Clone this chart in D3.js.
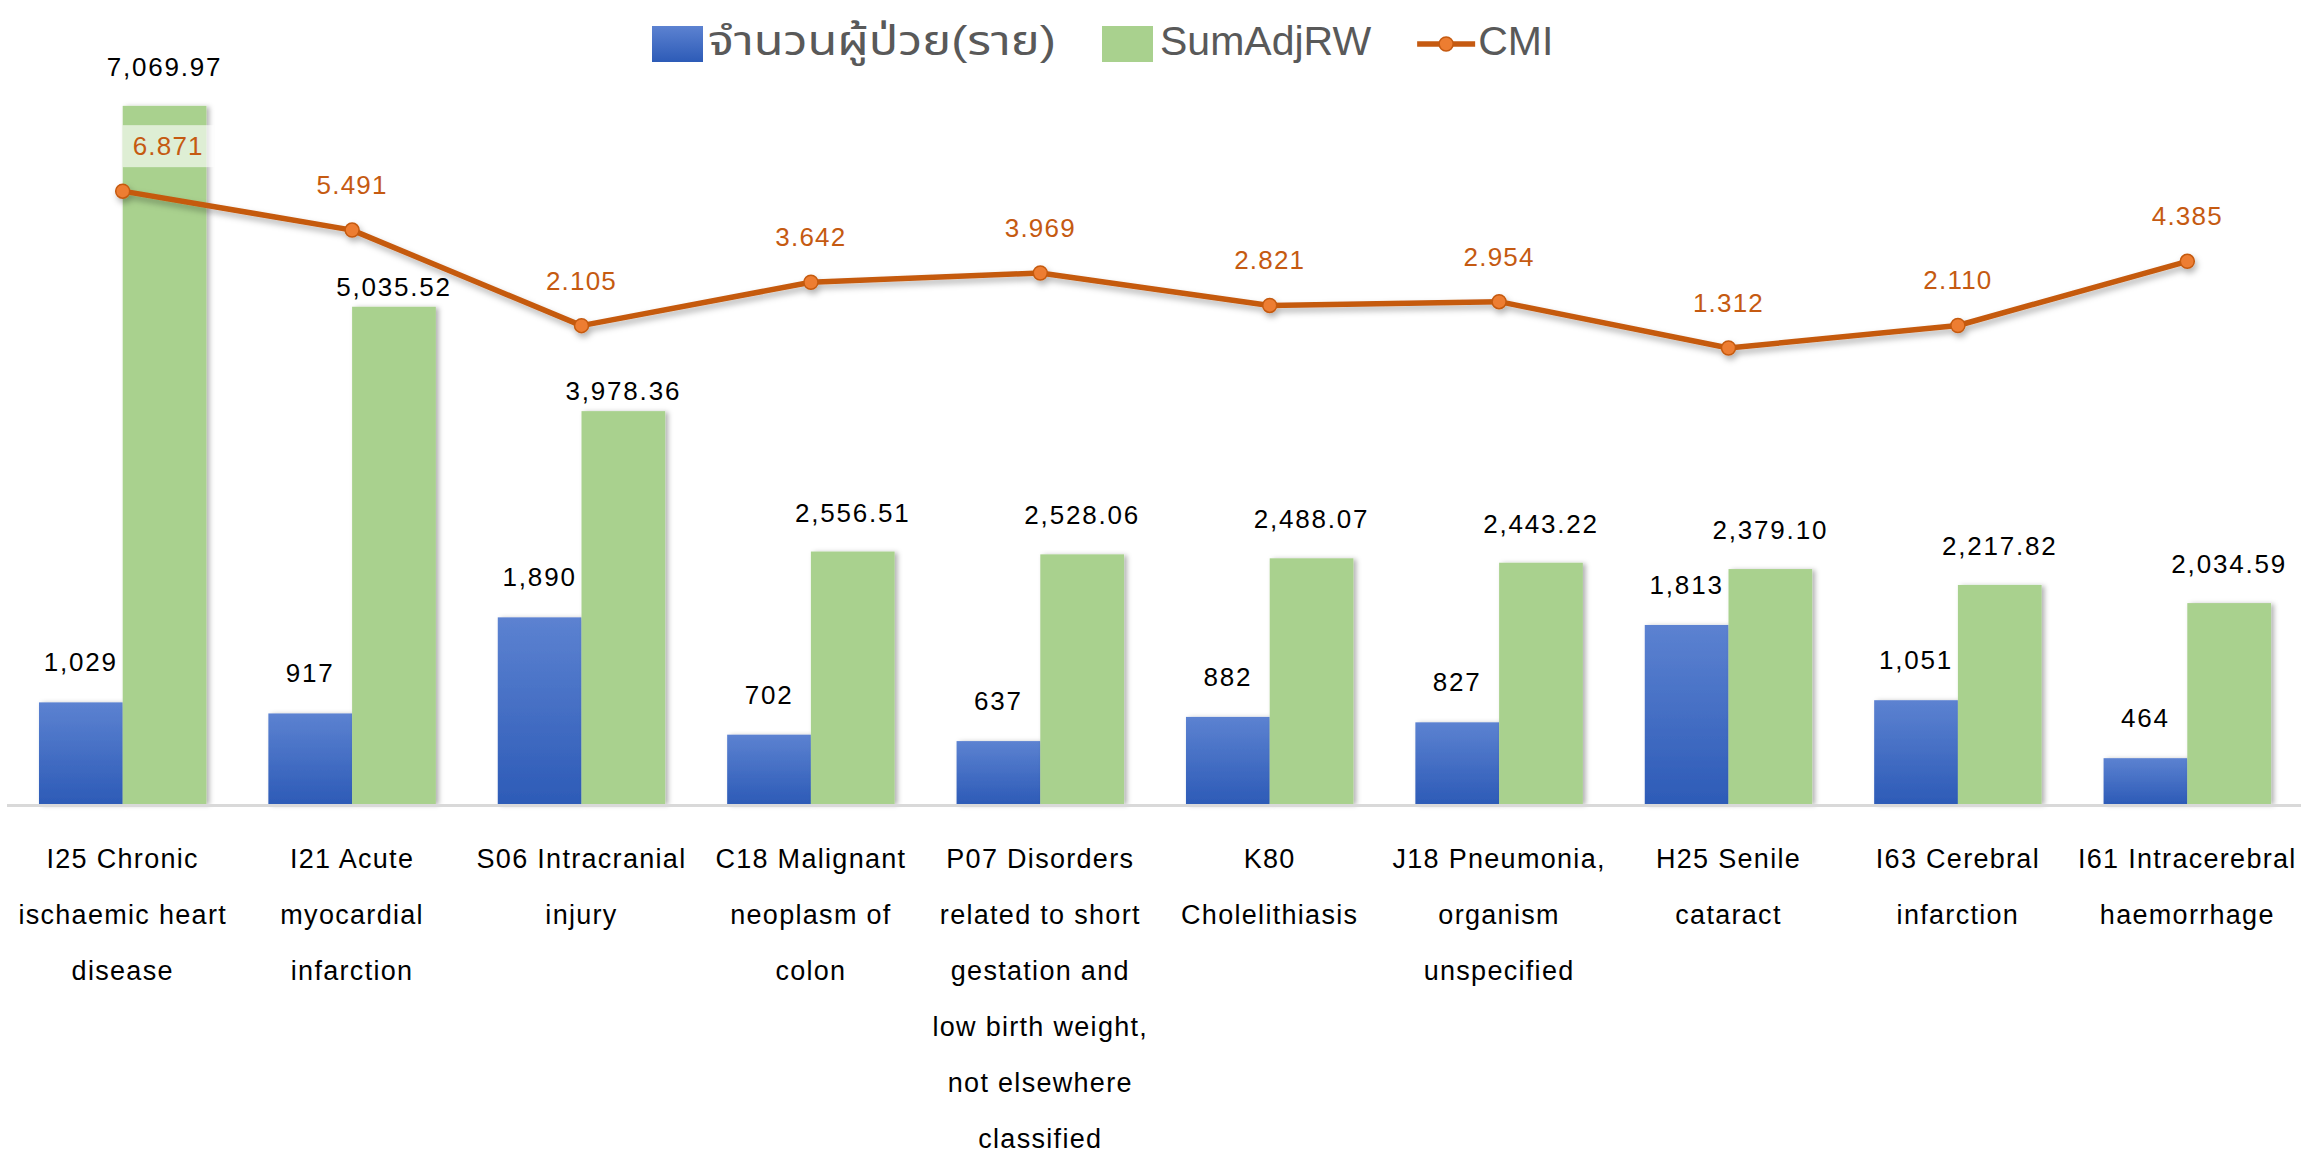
<!DOCTYPE html>
<html lang="th">
<head>
<meta charset="UTF-8">
<title>CMI chart</title>
<script src="https://cdn.jsdelivr.net/npm/d3@7"></script>
<style>
  body { margin: 0; background: #fff; }
  svg { display: block; }
  text { font-family: "Liberation Sans", Arial, "Noto Sans Thai", "Noto Sans", sans-serif; }
</style>
</head>
<body>
<svg id="chart" width="2301" height="1155"></svg>
<script>
// category labels, already broken into lines as in the original
var categories = [
  ["I25 Chronic", "ischaemic heart", "disease"],
  ["I21 Acute", "myocardial", "infarction"],
  ["S06 Intracranial", "injury"],
  ["C18 Malignant", "neoplasm of", "colon"],
  ["P07 Disorders", "related to short", "gestation and", "low birth weight,", "not elsewhere", "classified"],
  ["K80", "Cholelithiasis"],
  ["J18 Pneumonia,", "organism", "unspecified"],
  ["H25 Senile", "cataract"],
  ["I63 Cerebral", "infarction"],
  ["I61 Intracerebral", "haemorrhage"]
];
var patients = [1029, 917, 1890, 702, 637, 882, 827, 1813, 1051, 464];
var sumAdjRW = [7069.97, 5035.52, 3978.36, 2556.51, 2528.06, 2488.07, 2443.22, 2379.10, 2217.82, 2034.59];
var cmi = [6.871, 5.491, 2.105, 3.642, 3.969, 2.821, 2.954, 1.312, 2.110, 4.385];
var seriesNames = ["จำนวนผู้ป่วย(ราย)", "SumAdjRW", "CMI"];

var svg = d3.select("#chart"),
    plotLeft = 8, plotRight = 2302, plotTop = 14, base = 804;

var keys = categories.map(function(c) { return c.join(" "); });

var x = d3.scaleBand().domain(keys).range([plotLeft, plotRight]).paddingInner(0.27).paddingOuter(0.135);
var xs = d3.scaleBand().domain(["n", "rw"]).range([0, x.bandwidth()]);
var y = d3.scaleLinear().domain([0, 8000]).range([base, plotTop]);
var y2 = d3.scaleLinear().domain([-14.85, 13.15]).range([base, plotTop]);

var defs = svg.append("defs");
var grad = defs.append("linearGradient").attr("id", "blueGrad")
    .attr("x1", 0).attr("y1", 0).attr("x2", 0).attr("y2", 1);
grad.append("stop").attr("offset", "0%").attr("stop-color", "#5C82D1");
grad.append("stop").attr("offset", "100%").attr("stop-color", "#2D5BB7");

var shadow = defs.append("filter").attr("id", "shadow")
    .attr("x", "-20%").attr("y", "-20%").attr("width", "140%").attr("height", "140%");
shadow.append("feDropShadow").attr("dx", 3).attr("dy", 1).attr("stdDeviation", 2.5)
    .attr("flood-color", "#000").attr("flood-opacity", 0.3);

var lineShadow = defs.append("filter").attr("id", "lineShadow")
    .attr("x", "-5%").attr("y", "-50%").attr("width", "110%").attr("height", "200%");
lineShadow.append("feDropShadow").attr("dx", 2).attr("dy", 4).attr("stdDeviation", 3)
    .attr("flood-color", "#000").attr("flood-opacity", 0.3);

var rows = keys.map(function(k, i) {
  return { key: k, lines: categories[i], n: patients[i], rw: sumAdjRW[i], cmi: cmi[i] };
});

var cx = function(d) { return x(d.key) + x.bandwidth() / 2; };

// y of the CMI line at a given pixel x (for keeping bar labels off it)
function lineYAt(px) {
  var pts = rows.map(function(d) { return [cx(d), y2(d.cmi)]; });
  for (var i = 0; i < pts.length - 1; i++) {
    if (px >= pts[i][0] && px <= pts[i + 1][0]) {
      var t = (px - pts[i][0]) / (pts[i + 1][0] - pts[i][0]);
      return pts[i][1] + t * (pts[i + 1][1] - pts[i][1]);
    }
  }
  return -Infinity;
}

// bars
var groups = svg.append("g").selectAll("g").data(rows).join("g")
    .attr("transform", function(d) { return "translate(" + x(d.key) + ",0)"; });

groups.append("rect")
    .attr("x", xs("n")).attr("width", xs.bandwidth())
    .attr("y", function(d) { return y(d.n); })
    .attr("height", function(d) { return base - y(d.n); })
    .attr("fill", "url(#blueGrad)")
    .attr("filter", "url(#shadow)");

groups.append("rect")
    .attr("x", xs("rw")).attr("width", xs.bandwidth())
    .attr("y", function(d) { return y(d.rw); })
    .attr("height", function(d) { return base - y(d.rw); })
    .attr("fill", "#A9D18E")
    .attr("filter", "url(#shadow)");

// axis line
svg.append("line")
    .attr("x1", 7).attr("x2", 2301).attr("y1", base + 1.5).attr("y2", base + 1.5)
    .attr("stroke", "#D9D9D9").attr("stroke-width", 3);

// bar value labels
var fmt0 = d3.format(",d"), fmt2 = d3.format(",.2f"), fmt3 = d3.format(".3f");
var valStyle = function(sel) {
  sel.attr("text-anchor", "middle").attr("font-size", 26)
     .attr("letter-spacing", 1.8).attr("fill", "#000");
};
groups.append("text")
    .attr("x", xs("n") + xs.bandwidth() / 2)
    .attr("y", function(d) { return y(d.n) - 31; })
    .text(function(d) { return fmt0(d.n); })
    .call(valStyle);
groups.append("text")
    .attr("x", xs("rw") + xs.bandwidth() / 2)
    .attr("y", function(d) {
      var top = y(d.rw), ly = lineYAt(x(d.key) + xs("rw") + xs.bandwidth() / 2);
      var gap = (top - 30 - 19) - ly;
      return (gap > 0 && gap < 60) ? top - 11 : top - 30;
    })
    .text(function(d) { return fmt2(d.rw); })
    .call(valStyle);

// category labels
var catG = svg.append("g");
rows.forEach(function(d) {
  var t = catG.append("text")
      .attr("text-anchor", "middle").attr("font-size", 27)
      .attr("letter-spacing", 1.3).attr("fill", "#000");
  d.lines.forEach(function(line, j) {
    t.append("tspan")
        .attr("x", cx(d))
        .attr("y", 868 + j * 56)
        .text(line);
  });
});

// CMI line
var line = d3.line().x(cx).y(function(d) { return y2(d.cmi); });

var lineG = svg.append("g").attr("filter", "url(#lineShadow)");
lineG.append("path").datum(rows)
    .attr("d", line).attr("fill", "none")
    .attr("stroke", "#C55A11").attr("stroke-width", 5.5)
    .attr("stroke-linejoin", "round");
lineG.selectAll("circle").data(rows).join("circle")
    .attr("cx", cx).attr("cy", function(d) { return y2(d.cmi); })
    .attr("r", 7)
    .attr("fill", "#ED7D31").attr("stroke", "#C55A11").attr("stroke-width", 1.5);

// CMI labels with a pale backing; a label that sits inside a taller bar
// is slid onto that bar, as in the original
var cmiLab = svg.append("g").selectAll("g").data(rows).join("g");
cmiLab.append("text")
    .attr("x", cx)
    .attr("y", function(d) { return y2(d.cmi) - 36; })
    .attr("text-anchor", "middle").attr("font-size", 26)
    .attr("letter-spacing", 1.2).attr("fill", "#C55A11")
    .text(function(d) { return fmt3(d.cmi); })
    .each(function(d) {
      var b = this.getBBox();
      if (y(d.rw) < b.y - 6) {
        var shift = (x(d.key) + xs("rw")) - (b.x - 10);
        d3.select(this).attr("x", cx(d) + shift);
        b = this.getBBox();
      }
      d3.select(this.parentNode).insert("rect", "text")
          .attr("x", b.x - 10).attr("y", b.y - 6)
          .attr("width", b.width + 20).attr("height", b.height + 12)
          .attr("fill", "#fff").attr("fill-opacity", 0.62);
    });

// legend
var leg = svg.append("g").attr("transform", "translate(652,0)");
var lx = 0;
function legText(label, len) {
  var t = leg.append("text").attr("x", lx).attr("y", 55)
      .attr("font-size", 41).attr("fill", "#595959").text(label);
  if (len) t.attr("textLength", len).attr("lengthAdjust", "spacingAndGlyphs");
  lx += len || t.node().getComputedTextLength();
}
leg.append("rect").attr("x", lx).attr("y", 26).attr("width", 51).attr("height", 36)
    .attr("fill", "url(#blueGrad)");
lx += 56;
legText(seriesNames[0], 348);
lx += 46;
leg.append("rect").attr("x", lx).attr("y", 26).attr("width", 51).attr("height", 36)
    .attr("fill", "#A9D18E");
lx += 58;
legText(seriesNames[1]);
lx += 46;
leg.append("line").attr("x1", lx).attr("x2", lx + 58).attr("y1", 44).attr("y2", 44)
    .attr("stroke", "#C55A11").attr("stroke-width", 5.5);
leg.append("circle").attr("cx", lx + 29).attr("cy", 44).attr("r", 7)
    .attr("fill", "#ED7D31").attr("stroke", "#C55A11").attr("stroke-width", 1.5);
lx += 61;
legText(seriesNames[2]);
</script>
</body>
</html>
